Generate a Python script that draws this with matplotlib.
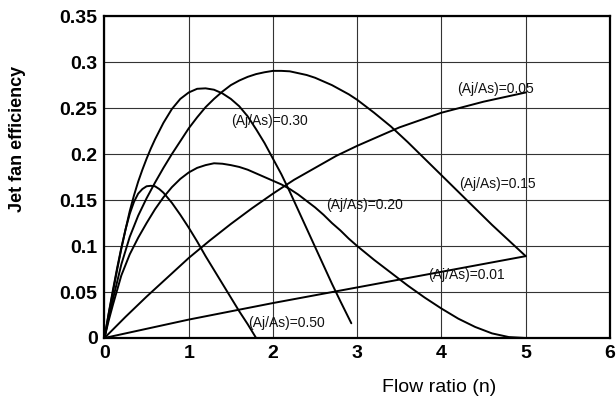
import matplotlib
matplotlib.use("Agg")
import matplotlib.pyplot as plt

plt.rcParams["font.family"] = ["Liberation Sans", "DejaVu Sans"]

# curves (flow ratio n -> jet fan efficiency)
n_001 = [0, 1, 2, 3, 4, 5]
eff_001 = [0, 0.020, 0.038, 0.055, 0.072, 0.089]

n_005 = [0, 0.25, 0.5, 0.75, 1, 1.25, 1.5, 1.75, 2, 2.25, 2.5, 2.75, 3, 3.25, 3.5,
         3.75, 4, 4.25, 4.5, 4.75, 5]
eff_005 = [0, 0.023, 0.045, 0.066, 0.087, 0.106, 0.124, 0.141, 0.157, 0.172, 0.185,
           0.198, 0.209, 0.219, 0.229, 0.237, 0.245, 0.251, 0.257, 0.262, 0.267]

n_015 = [0, 0.05, 0.1, 0.2, 0.3, 0.4, 0.5, 0.6, 0.7, 0.8, 0.9, 1.0, 1.1, 1.2, 1.3,
         1.4, 1.5, 1.6, 1.7, 1.8, 1.9, 2.0, 2.1, 2.2, 2.3, 2.4, 2.5, 2.6, 2.7, 2.8,
         2.9, 3.0, 3.2, 3.4, 3.6, 3.8, 4.0, 4.2, 4.4, 4.6, 4.8, 5.0]
eff_015 = [0, 0.022, 0.042, 0.080, 0.110, 0.133, 0.152, 0.169, 0.185, 0.200, 0.214,
           0.228, 0.240, 0.251, 0.260, 0.268, 0.275, 0.280, 0.284, 0.287, 0.289,
           0.2905, 0.2905, 0.290, 0.288, 0.286, 0.283, 0.279, 0.275, 0.270, 0.265,
           0.259, 0.245, 0.230, 0.213, 0.195, 0.177, 0.159, 0.141, 0.123, 0.106, 0.089]

n_020 = [0, 0.05, 0.1, 0.2, 0.3, 0.4, 0.5, 0.6, 0.7, 0.8, 0.9, 1.0, 1.1, 1.2, 1.3,
         1.4, 1.5, 1.6, 1.7, 1.8, 1.9, 2.0, 2.1, 2.2, 2.3, 2.4, 2.5, 2.6, 2.7, 2.8,
         2.9, 3.0, 3.2, 3.4, 3.6, 3.8, 4.0, 4.2, 4.4, 4.6, 4.8, 5.0]
eff_020 = [0, 0.019, 0.036, 0.068, 0.091, 0.109, 0.125, 0.140, 0.153, 0.164, 0.173,
           0.180, 0.185, 0.188, 0.190, 0.1895, 0.188, 0.186, 0.183, 0.179, 0.175,
           0.171, 0.167, 0.162, 0.156, 0.149, 0.142, 0.134, 0.125, 0.117, 0.108,
           0.100, 0.085, 0.071, 0.057, 0.044, 0.032, 0.021, 0.012, 0.005, 0.001, 0.0]

n_030 = [0, 0.05, 0.1, 0.15, 0.2, 0.25, 0.3, 0.35, 0.4, 0.45, 0.5, 0.55, 0.6, 0.7,
         0.8, 0.9, 1.0, 1.1, 1.2, 1.3, 1.4, 1.5, 1.6, 1.7, 1.8, 1.9, 2.0, 2.1, 2.2,
         2.3, 2.4, 2.5, 2.6, 2.7, 2.8, 2.93]
eff_030 = [0, 0.026, 0.050, 0.074, 0.097, 0.118, 0.138, 0.155, 0.170, 0.183, 0.195,
           0.206, 0.216, 0.234, 0.249, 0.260, 0.267, 0.271, 0.2715, 0.270, 0.266,
           0.260, 0.252, 0.241, 0.227, 0.212, 0.195, 0.178, 0.159, 0.139, 0.119,
           0.099, 0.079, 0.059, 0.040, 0.016]

n_050 = [0, 0.05, 0.1, 0.15, 0.2, 0.25, 0.3, 0.35, 0.4, 0.45, 0.5, 0.55, 0.6, 0.65,
         0.7, 0.8, 0.9, 1.0, 1.1, 1.2, 1.3, 1.4, 1.5, 1.6, 1.7, 1.8]
eff_050 = [0, 0.027, 0.052, 0.076, 0.098, 0.118, 0.135, 0.148, 0.157, 0.162, 0.165,
           0.1655, 0.165, 0.162, 0.158, 0.147, 0.134, 0.120, 0.105, 0.089, 0.074,
           0.059, 0.044, 0.029, 0.015, 0.0]

curves = [
    (n_001, eff_001, "(Aj/As)=0.01", (3.84, 0.068)),
    (n_005, eff_005, "(Aj/As)=0.05", (4.19, 0.271)),
    (n_015, eff_015, "(Aj/As)=0.15", (4.21, 0.167)),
    (n_020, eff_020, "(Aj/As)=0.20", (2.63, 0.145)),
    (n_030, eff_030, "(Aj/As)=0.30", (1.50, 0.236)),
    (n_050, eff_050, "(Aj/As)=0.50", (1.70, 0.016)),
]

x_ticks = [0, 1, 2, 3, 4, 5, 6]
y_ticks = [0, 0.05, 0.1, 0.15, 0.2, 0.25, 0.3, 0.35]
y_tick_labels = ["0", "0.05", "0.1", "0.15", "0.2", "0.25", "0.3", "0.35"]

fig = plt.figure(figsize=(6.16, 4.04), dpi=100)
ax = fig.add_axes([0.1696, 0.1634, 0.8206, 0.7966])

for xs, ys, label, pos in curves:
    ax.plot(xs, ys, color="black", lw=1.4, solid_joinstyle="round",
            solid_capstyle="round")
    ax.text(pos[0], pos[1], label, fontsize=10, va="center", ha="left",
            color="#111111")

ax.set_xlim(0, 6)
ax.set_ylim(0, 0.35)
ax.set_xticks(x_ticks)
ax.set_yticks(y_ticks)
ax.set_yticklabels(y_tick_labels)
ax.tick_params(length=0, labelsize=14, pad=5)
for lbl in ax.get_xticklabels() + ax.get_yticklabels():
    lbl.set_fontweight("bold")
ax.grid(True, color="#333333", lw=0.8)
ax.set_axisbelow(True)
for sp in ax.spines.values():
    sp.set_linewidth(1.6)

fig.text(0.028, 0.655, "Jet fan efficiency", rotation=90, fontsize=13,
         fontweight="bold", ha="center", va="center")
fig.text(0.713, 0.04, "Flow ratio (n)", fontsize=14, ha="center", va="center")

fig.savefig("out.png", dpi=100)
